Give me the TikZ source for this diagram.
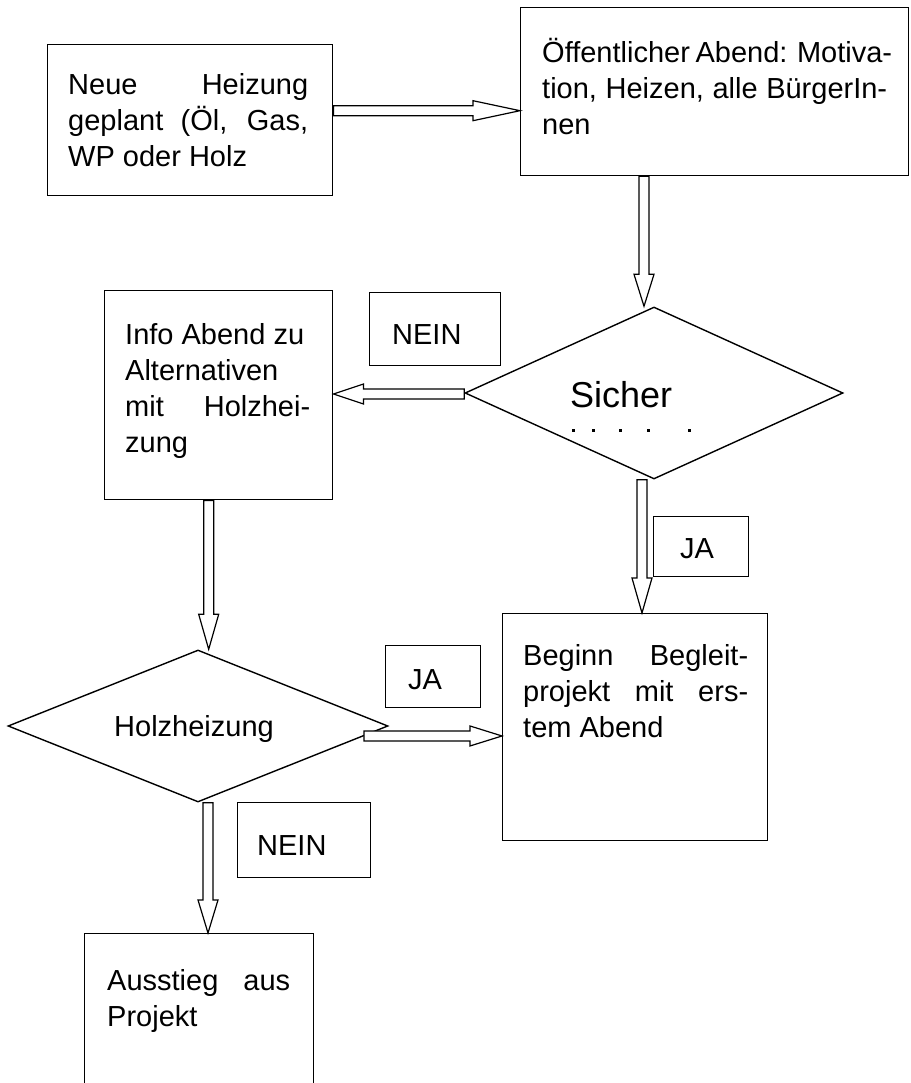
\documentclass[tikz,border=0pt]{standalone}
\usepackage{fontspec}
\setmainfont{Liberation Sans}
\usetikzlibrary{shapes.geometric,calc}
\tikzset{
  box/.style={draw, line width=1.4pt, inner sep=0pt, anchor=north west},
  dia/.style={draw, diamond, line width=1.4pt, inner sep=0pt},
  txt/.style={inner sep=0pt, anchor=base west, font=\fontsize{29}{36}\selectfont},
  harrowstyle/.style={draw, fill=white, line width=1.2pt, line join=miter}
}
\newcommand\harrow[3][32]{%
  \draw[harrowstyle] let \p1=(#2), \p2=(#3),
     \n1={atan2(\y2-\y1,\x2-\x1)}, \n2={veclen(\x2-\x1,\y2-\y1)} in
     [shift={(\p1)}, rotate=\n1]
     (0pt,-5pt) -- (\n2-#1pt,-5pt) -- (\n2-#1pt,-10pt) -- (\n2+0pt,0pt)
     -- (\n2-#1pt,10pt) -- (\n2-#1pt,5pt) -- (0pt,5pt) -- cycle;}
\newcommand\sline[2]{\makebox[#1][s]{#2}}
\begin{document}
\begin{tikzpicture}[x=1pt,y=-1pt]
\clip (0,0) rectangle (910,1083);
\fill[white] (0,0) rectangle (910,1083);
% boxes
\node[box, minimum width=285pt, minimum height=151pt] (b1) at (47,44) {};
\node[box, minimum width=388pt, minimum height=168pt] (b2) at (520,7) {};
\node[box, minimum width=228pt, minimum height=209pt] (b3) at (104,290) {};
\node[box, minimum width=265pt, minimum height=227pt] (b4) at (502,613) {};
\node[box, minimum width=229pt, minimum height=200pt] (b5) at (84,933) {};
% label boxes
\node[box, minimum width=131pt, minimum height=73pt] (n1) at (369,292) {};
\node[box, minimum width=95pt, minimum height=60pt] (j1) at (653,516) {};
\node[box, minimum width=95pt, minimum height=62pt] (j2) at (385,645) {};
\node[box, minimum width=133pt, minimum height=75pt] (n2) at (237,802) {};
\node[txt] (ln1) at (392,344) {NEIN};
\node[txt] (lj1) at (680,558) {JA};
\node[txt] (lj2) at (408,689) {JA};
\node[txt] (ln2) at (257,855) {NEIN};
% diamonds
\node[dia, minimum width=378pt, minimum height=172pt] (d1) at (654,393) {};
\node[dia, minimum width=380pt, minimum height=152pt] (d2) at (198,726) {};
% texts
\node[txt] (t1) at (68,95) {\parbox[t]{240pt}{\sline{240pt}{Neue Heizung}\\\sline{240pt}{geplant (Öl, Gas,}\\WP oder Holz}};
\node[txt] (t2) at (542,63) {\parbox[t]{350pt}{Öffentlicher Abend: Motiva-\\\sline{345pt}{tion, Heizen, alle BürgerIn-}\\nen}};
\node[txt] (t3) at (125,344) {\parbox[t]{190pt}{Info Abend zu\\Alternativen\\\sline{185pt}{mit Holzhei-}\\zung}};
\node[txt] (t4) at (523,665) {\parbox[t]{225pt}{\sline{225pt}{Beginn Begleit-}\\\sline{225pt}{projekt mit ers-}\\tem Abend}};
\node[txt] (t5) at (107,990) {\parbox[t]{183pt}{\sline{183pt}{Ausstieg aus}\\Projekt}};
\node[inner sep=0pt, anchor=base west, font=\fontsize{36}{40}\selectfont] (ts) at (570,407) {Sicher};
\foreach \x in {573,593,620,648,689} \fill (\x-1.5,428.5) rectangle +(3pt,-3pt);
\node[inner sep=0pt, anchor=base, font=\fontsize{29}{36}\selectfont] (th) at (194,736) {Holzheizung};
% arrows
\coordinate (a1s) at ([yshift=9.5pt]b1.east);
\coordinate (a1e) at (b2.west |- a1s);
\harrow[47]{a1s}{a1e}
\coordinate (a2e) at ([xshift=-10pt]d1.north);
\coordinate (a2s) at (b2.south -| a2e);
\harrow[32]{a2s}{a2e}
\coordinate (a3s) at ([yshift=-1pt]d1.west);
\coordinate (a3e) at (b3.east |- a3s);
\harrow[30]{a3s}{a3e}
\coordinate (a4s) at ([xshift=-12pt]d1.south);
\coordinate (a4e) at (b4.north -| a4s);
\harrow[35]{a4s}{a4e}
\coordinate (a5s) at ([xshift=-10pt]b3.south);
\coordinate (a5e) at (d2.north -| a5s);
\harrow[35]{a5s}{a5e}
\coordinate (a6s) at ($(d2.east)!0.13!(d2.south)$);
\coordinate (a6e) at (b4.west |- a6s);
\harrow[32]{a6s}{a6e}
\coordinate (a7s) at ([xshift=10pt]d2.south);
\coordinate (a7e) at (b5.north -| a7s);
\harrow[33]{a7s}{a7e}
\end{tikzpicture}
\end{document}
